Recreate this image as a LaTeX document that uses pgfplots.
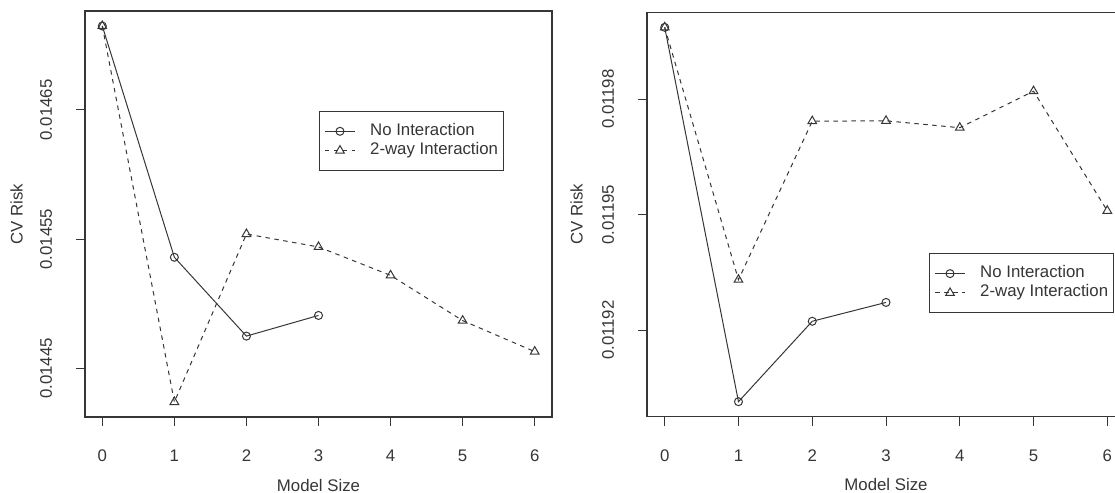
\documentclass[border=0pt]{standalone}
\usepackage{fontspec}
\setmainfont{Liberation Sans}
\usepackage{pgfplots}
\pgfplotsset{compat=1.18}
\definecolor{main}{HTML}{363636}
\newcommand{\fs}{\fontsize{16.8bp}{19bp}\selectfont}
\pgfplotsset{
 mystyle/.style={
  scale only axis, anchor=south west,
  xmin=-0.24, xmax=6.24,
  xtick={0,1,2,3,4,5,6},
  /pgf/number format/assume math mode=true,
  axis line style={main, line width=1.1bp},
  tick style={main, line width=1bp},
  major tick length=9bp, tick align=outside,
  xtick pos=left, ytick pos=left,
  scaled y ticks=false,
  every tick label/.append style={font=\fs, text=main},
  xticklabel style={anchor=center, yshift=-29.7bp},
  yticklabel style={xshift=-30bp, rotate=90, anchor=center},
  xlabel={Model Size}, ylabel={CV Risk},
  every axis label/.append style={font=\fs, text=main},
  xlabel style={at={(axis description cs:0.5,0)}, anchor=center, yshift=-68bp},
  ylabel style={anchor=center},
  legend cell align=left,
  legend style={draw=main, line width=1bp, fill=white, inner xsep=5bp, inner ysep=11.8bp,
    row sep=3.3bp, column sep=14.7bp, anchor=north west,
    nodes={inner sep=0pt, text height=12bp, text depth=4bp, font=\fs, text=main}},
  legend image code/.code={%
    \draw[mark repeat=2, mark phase=2, ##1] plot coordinates {(0bp,0bp) (15bp,0bp) (30bp,0bp)};},
 },
 noint/.style={main, line width=1bp, mark=o, mark size=4bp, mark options={solid}},
 twoway/.style={main, line width=1bp, dash pattern=on 4.5bp off 4.5bp, mark=triangle, mark size=5bp, mark options={solid}},
}
\begin{document}
\fs
\begin{tikzpicture}
\path[use as bounding box] (0,0) rectangle (1115bp,493bp);
\begin{axis}[mystyle, at={(85bp,76bp)}, width=467bp, height=406bp,
  ymin=0.0144124, ymax=0.0147266,
  ytick={0.01445,0.01455,0.01465}, yticklabels={0.01445,0.01455,0.01465},
  ylabel style={at={(axis description cs:-0.1463,0.5)}},
  legend style={at={(axis description cs:0.501,0.7537)}}]
\addplot[noint] coordinates {(0,0.014715) (1,0.014536) (2,0.014475) (3,0.014491)};
\addlegendentry{No Interaction}
\addplot[twoway] coordinates {(0,0.014715) (1,0.014424) (2,0.014554) (3,0.014544) (4,0.014522) (5,0.014487) (6,0.014463)};
\addlegendentry{2-way Interaction}
\end{axis}
\begin{axis}[mystyle, at={(647bp,76.3bp)}, width=478bp, height=404.4bp,
  ymin=0.0118975, ymax=0.0120026,
  ytick={0.01192,0.01195,0.01198}, yticklabels={0.01192,0.01195,0.01198},
  ylabel style={at={(axis description cs:-0.147,0.5)}},
  legend style={at={(axis description cs:0.590,0.404)}}]
\addplot[noint] coordinates {(0,0.0119987) (1,0.0119014) (2,0.0119223) (3,0.0119272)};
\addlegendentry{No Interaction}
\addplot[twoway] coordinates {(0,0.0119987) (1,0.0119331) (2,0.0119743) (3,0.0119744) (4,0.0119726) (5,0.0119821) (6,0.0119510)};
\addlegendentry{2-way Interaction}
\end{axis}
\end{tikzpicture}
\end{document}
